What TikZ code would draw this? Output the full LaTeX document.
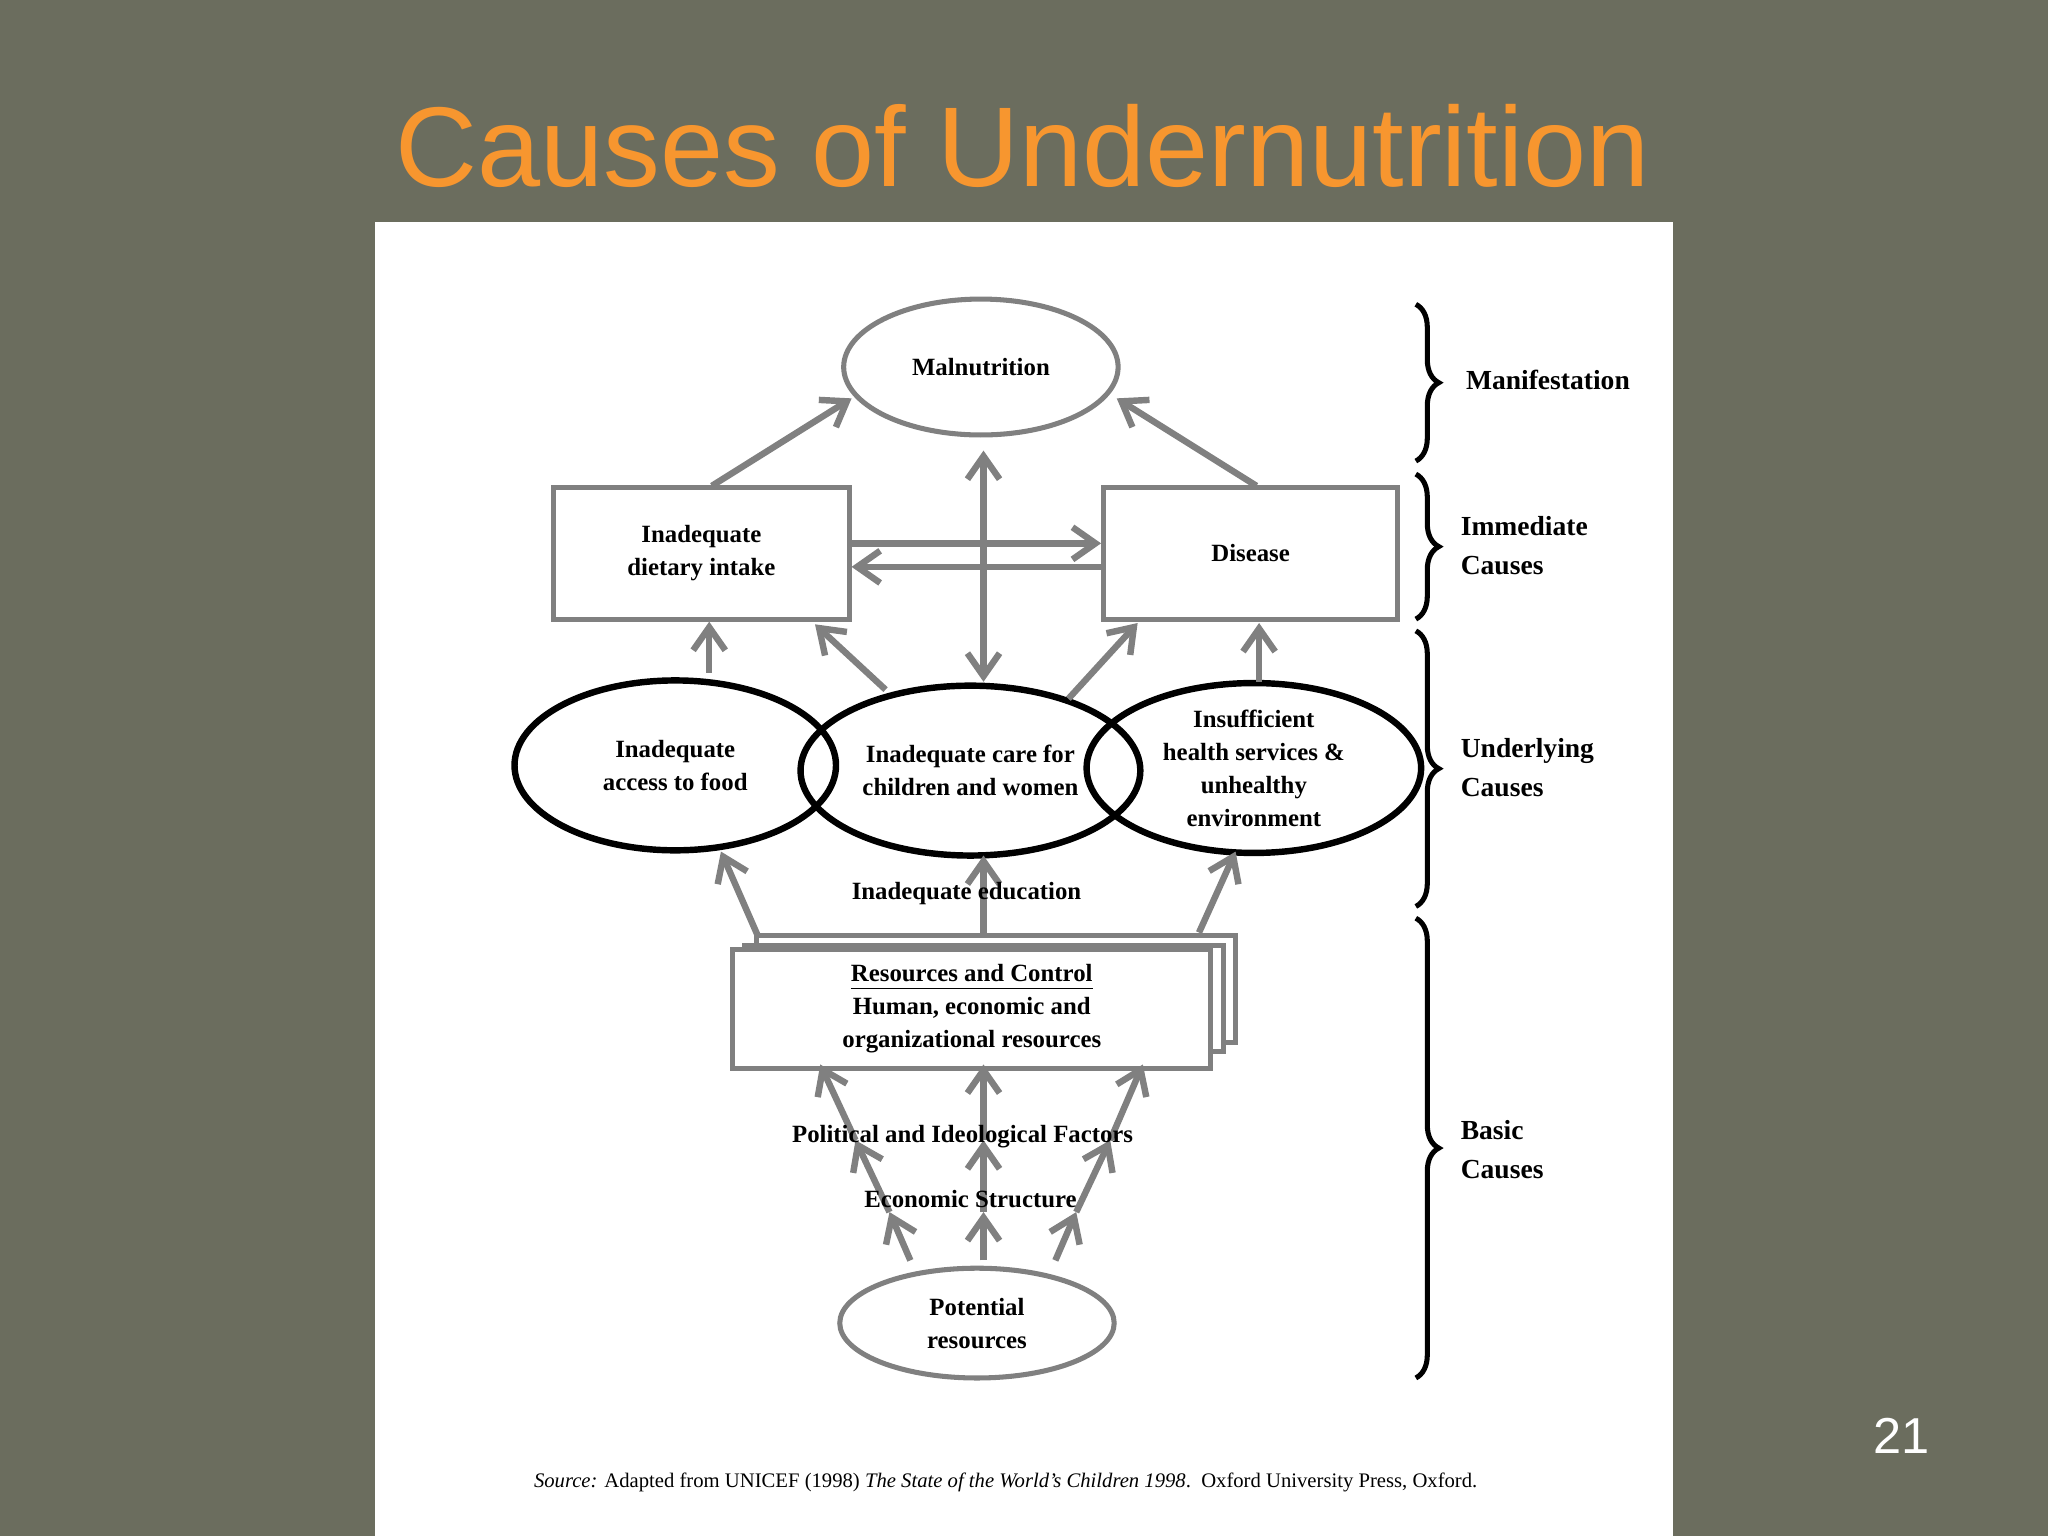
\documentclass[tikz,border=0pt]{standalone}
\usepackage{fontspec}
\setmainfont{Liberation Serif}
\newfontfamily\titlefont{Liberation Sans}
\usetikzlibrary{shapes.geometric,arrows.meta,decorations.pathreplacing,positioning}
\definecolor{slidebg}{HTML}{6B6D5E}
\definecolor{titleorange}{HTML}{F7962F}
\definecolor{arrowgray}{HTML}{808080}
\newcommand{\dfont}{\fontsize{5.4}{7.2}\selectfont\bfseries}
\begin{document}
\begin{tikzpicture}[x=0.01cm,y=-0.01cm,
    gbox/.style={draw=arrowgray,line width=1.1pt,fill=white,align=center,font=\dfont},
    gell/.style={ellipse,draw=arrowgray,line width=1.1pt,align=center,inner sep=0pt,font=\dfont},
    bell/.style={ellipse,draw=black,line width=1.4pt,align=center,inner sep=0pt,font=\dfont},
    garr/.style={draw=arrowgray,line width=1.4pt,-{Straight Barb[length=5pt,width=7pt]}},
    lbl/.style={font=\fontsize{6}{8.5}\selectfont\bfseries,align=left,anchor=west},
    brc/.style={decorate,decoration={brace,amplitude=5pt},line width=1.1pt}]
\fill[slidebg] (0,0) rectangle (1568,1176);
\fill[white] (287,170) rectangle (1281,1176);
\node[text=titleorange,font=\titlefont\fontsize{24.7}{28}\selectfont] (title) at (783,112) {Causes of Undernutrition};
\node[text=white,font=\titlefont\fontsize{11}{13}\selectfont] (pagenum) at (1456,1099) {21};

% immediate level
\node[gell,minimum width=2.1cm,minimum height=1.04cm] (maln) at (751,281) {Malnutrition};
\node[gbox,minimum width=2.26cm,minimum height=1.01cm] (diet) at (537,423.5) {Inadequate\\dietary intake};
\node[gbox,minimum width=2.25cm,minimum height=1.01cm] (dis) at (957.5,423.5) {Disease};

% underlying level
\node[bell,minimum width=2.46cm,minimum height=1.3cm] (food) at (517,586) {Inadequate\\access to food};
\node[bell,minimum width=2.6cm,minimum height=1.3cm] (care) at (743,590) {Inadequate care for\\children and women};
\node[bell,minimum width=2.56cm,minimum height=1.3cm] (hlth) at (960,588) {Insufficient\\health services \&\\unhealthy\\environment};

% basic level
\draw[arrowgray,line width=1.1pt,fill=white] (579,716) rectangle (946,798);
\draw[arrowgray,line width=1.1pt,fill=white] (570,724) rectangle (937,805);
\node[gbox,minimum width=3.66cm,minimum height=0.81cm] (res) at (744,772.5) {\underline{Resources and Control}\\Human, economic and\\organizational resources};
\node[gell,minimum width=2.1cm,minimum height=0.84cm] (pot) at (748,1013) {Potential\\resources};

% arrows
\draw[garr] (545,372) -- (652,305);
\draw[garr] (962,372) -- (855,305);
\draw[garr,{Straight Barb[length=5pt,width=7pt]}-{Straight Barb[length=5pt,width=7pt]}] (753,522) -- (753,345);
\draw[garr] (diet.east|-0,416) -- (dis.west|-0,416);
\draw[garr] (dis.west|-0,434) -- (diet.east|-0,434);
\draw[garr] (543,515) -- (543,476);
\draw[garr] (678,528) -- (624,478);
\draw[garr] (818,535) -- (871,477);
\draw[garr] (964,522) -- (964,477);
\draw[garr] (580,716) -- (552,652);
\draw[garr] (753,714) -- (753,655);
\draw[garr] (918,714) -- (946,652);
\foreach \xa/\xb/\xc/\xd in {697/681/655/628, 753/753/753/753, 808/824/850/875} {
  \draw[garr] (\xa,965) -- (\xb,928);
  \draw[garr] (\xb,928) -- (\xc,873);
  \draw[garr] (\xc,873) -- (\xd,815);
}

% level labels
\node[font=\dfont] (edu) at (740,684) {Inadequate education};
\node[font=\dfont] (pol) at (737,870) {Political and Ideological Factors};
\node[font=\dfont] (eco) at (743,918) {Economic Structure};

% braces
\draw[brc] (1084,233) -- (1084,353);
\draw[brc] (1084,363) -- (1084,474);
\draw[brc] (1084,483) -- (1084,694);
\draw[brc] (1084,703) -- (1084,1055);
\node[lbl] (manif) at (1110,291) {Manifestation};
\node[lbl] (imm) at (1106,418) {Immediate\\Causes};
\node[lbl] (und) at (1106,588) {Underlying\\Causes};
\node[lbl] (bas) at (1106,880) {Basic\\Causes};

\node[font=\fontsize{4.5}{6}\selectfont] (src) at (770,1135) {\textit{Source:} Adapted from UNICEF (1998) \textit{The State of the World's Children 1998}.\ \ Oxford University Press, Oxford.};
\end{tikzpicture}
\end{document}
